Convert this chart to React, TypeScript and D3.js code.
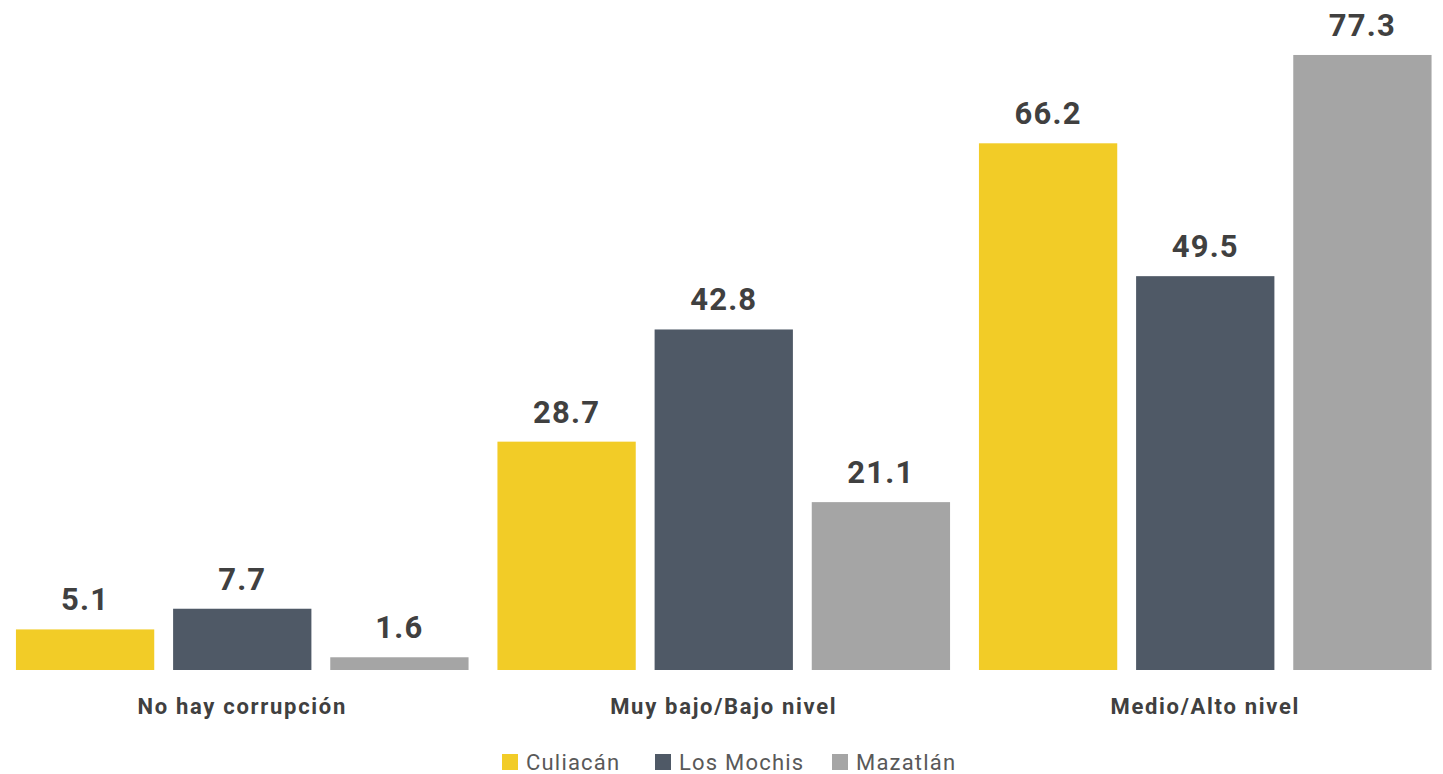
import React from "react";
import * as d3 from "d3";

const categories = ["No hay corrupción", "Muy bajo/Bajo nivel", "Medio/Alto nivel"];
const seriesNames = ["Culiacán", "Los Mochis", "Mazatlán"];
const culiacan = [5.1, 28.7, 66.2];
const losMochis = [7.7, 42.8, 49.5];
const mazatlan = [1.6, 21.1, 77.3];
const seriesColors = ["#F2CC27", "#4F5966", "#A5A5A5"];

const W = 1443;
const H = 774;
const FONT = "Roboto, 'Noto Sans', sans-serif";

export default function App() {
  const values = [culiacan, losMochis, mazatlan];
  const x0 = d3.scaleBand<string>().domain(categories).range([1.5, 1446]).paddingInner(0.06).paddingOuter(0.03);
  const x1 = d3.scaleBand<string>().domain(seriesNames).range([0, x0.bandwidth()]).paddingInner(0.12).paddingOuter(0);
  const y = d3.scaleLinear().domain([0, 80]).range([670, 33.5]);

  const legendItems = [
    { x: 502 },
    { x: 655 },
    { x: 832 },
  ];

  return (
    <svg width={W} height={H} style={{ position: "absolute", left: 0, top: 0, display: "block" }} fontFamily={FONT}>
      <rect width={W} height={H} fill="#ffffff" />
      {categories.map((c, ci) => (
        <g key={c} transform={`translate(${x0(c)},0)`}>
          {seriesNames.map((s, si) => {
            const v = values[si][ci];
            const bx = x1(s)!;
            return (
              <g key={s}>
                <rect x={bx} y={y(v)} width={x1.bandwidth()} height={y(0) - y(v)} fill={seriesColors[si]} />
                <text
                  x={bx + x1.bandwidth() / 2}
                  y={y(v) - 19}
                  textAnchor="middle"
                  fontSize={31}
                  fontWeight={700}
                  letterSpacing={1.2}
                  fill="#404040"
                >
                  {v.toFixed(1)}
                </text>
              </g>
            );
          })}
          <text x={x0.bandwidth() / 2} y={714} textAnchor="middle" fontSize={22} fontWeight={700} letterSpacing={1.7} fill="#404040">
            {c}
          </text>
        </g>
      ))}
      {seriesNames.map((s, i) => (
        <g key={s} transform={`translate(${legendItems[i].x},0)`}>
          <rect x={0} y={754} width={16} height={16} fill={seriesColors[i]} />
          <text x={24} y={770} fontSize={22} letterSpacing={1.2} fill="#595959">
            {s}
          </text>
        </g>
      ))}
    </svg>
  );
}
